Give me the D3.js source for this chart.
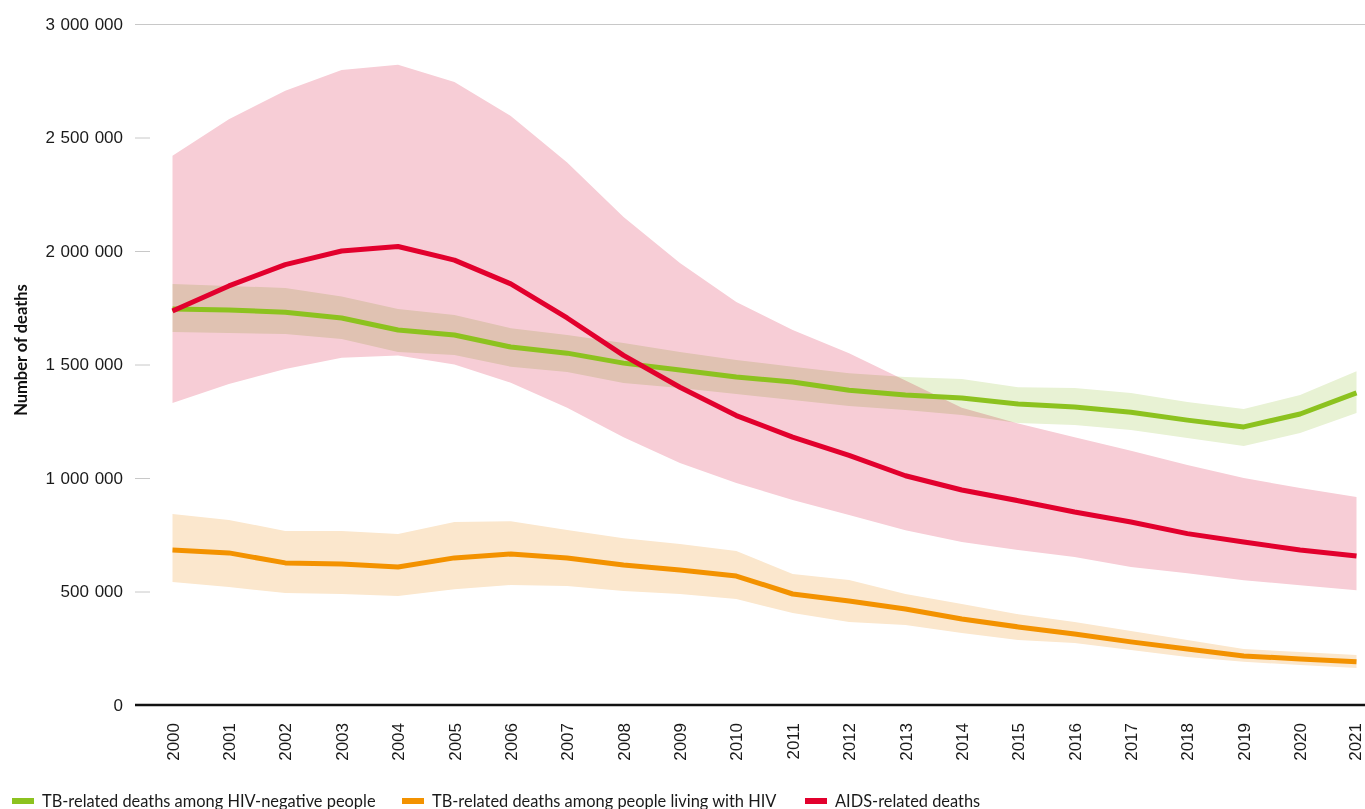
<!DOCTYPE html>
<html>
<head>
<meta charset="utf-8">
<script src="https://cdn.jsdelivr.net/npm/d3@7"></script>
<style>
  body { margin: 0; background: #fff; overflow: hidden; }
  svg { display: block; font-family: Lato, "Noto Sans", sans-serif; }
</style>
</head>
<body>
<svg id="chart"></svg>
<script>
// years on the x axis
const years = d3.range(2000, 2022);

// AIDS-related deaths (estimate, lower, upper)
const aidsDeaths = [1736000, 1846000, 1940000, 2000000, 2020000, 1960000, 1855000, 1705000, 1540000, 1400000, 1275000, 1180000, 1100000, 1010000, 947000, 900000, 850000, 806000, 755000, 718000, 683000, 656000];
const aidsLow = [1330000, 1414000, 1480000, 1530000, 1540000, 1500000, 1420000, 1310000, 1180000, 1066000, 978000, 903000, 837000, 770000, 718000, 683000, 652000, 608000, 580000, 550000, 528000, 506000];
const aidsHigh = [2420000, 2580000, 2706000, 2797000, 2820000, 2744000, 2595000, 2390000, 2150000, 1947000, 1775000, 1652000, 1550000, 1430000, 1310000, 1240000, 1180000, 1120000, 1057000, 1000000, 956000, 916000];

// TB-related deaths among HIV-negative people
const tbNeg = [1745000, 1740000, 1730000, 1705000, 1652000, 1630000, 1577000, 1550000, 1506000, 1476000, 1445000, 1423000, 1387000, 1366000, 1352000, 1326000, 1313000, 1290000, 1255000, 1225000, 1282000, 1375000];
const tbNegLow = [1643000, 1639000, 1634000, 1612000, 1555000, 1542000, 1490000, 1467000, 1418000, 1396000, 1370000, 1344000, 1317000, 1300000, 1277000, 1242000, 1233000, 1211000, 1176000, 1141000, 1198000, 1286000];
const tbNegHigh = [1855000, 1846000, 1837000, 1800000, 1744000, 1718000, 1660000, 1630000, 1595000, 1555000, 1520000, 1490000, 1462000, 1445000, 1436000, 1400000, 1396000, 1374000, 1335000, 1304000, 1366000, 1470000];

// TB-related deaths among people living with HIV
const tbHiv = [683000, 670000, 626000, 621000, 608000, 648000, 665000, 648000, 617000, 595000, 568000, 489000, 458000, 423000, 379000, 344000, 313000, 278000, 247000, 216000, 203000, 190000];
const tbHivLow = [542000, 520000, 493000, 489000, 480000, 510000, 529000, 524000, 502000, 489000, 467000, 405000, 366000, 352000, 317000, 286000, 273000, 242000, 211000, 190000, 176000, 163000];
const tbHivHigh = [841000, 815000, 767000, 767000, 753000, 806000, 810000, 771000, 735000, 709000, 678000, 577000, 551000, 489000, 445000, 400000, 366000, 326000, 286000, 247000, 233000, 220000];

const yTicks = [0, 500000, 1000000, 1500000, 2000000, 2500000, 3000000];
const legendLabels = [
  'TB-related deaths among HIV-negative people',
  'TB-related deaths among people living with HIV',
  'AIDS-related deaths'
];

const width = 1365;
const height = 809;

const series = [
  {name: legendLabels[0], mid: tbNeg, low: tbNegLow, high: tbNegHigh, line: '#8cc21f', band: '#e8f2d4', blend: 'multiply'},
  {name: legendLabels[1], mid: tbHiv, low: tbHivLow, high: tbHivHigh, line: '#f39200', band: '#fbe7cd', blend: 'normal'},
  {name: legendLabels[2], mid: aidsDeaths, low: aidsLow, high: aidsHigh, line: '#e2002d', band: '#f7cdd6', blend: 'normal'}
];

const svg = d3.select('#chart')
  .attr('width', width)
  .attr('height', height);

const x = d3.scaleLinear()
  .domain([2000, 2021])
  .range([172.5, 1356.5]);

const y = d3.scaleLinear()
  .domain([0, 3000000])
  .range([705, 24]);

const fmt = d3.formatLocale({decimal: '.', thousands: '\u2004', grouping: [3], currency: ['', '']}).format(',');

// y axis: short tick marks, labels with spaced thousands
const yAxis = svg.append('g')
  .attr('transform', 'translate(150, 0)')
  .call(d3.axisLeft(y).tickValues(yTicks).tickSize(15).tickPadding(12).tickFormat(fmt));
yAxis.select('.domain').remove();
yAxis.selectAll('.tick line').attr('stroke', '#c8c8c8');
yAxis.selectAll('.tick text')
  .attr('fill', '#1a1a1a')
  .style('font-size', '17px');
// the top tick runs across the whole plot
yAxis.selectAll('.tick')
  .filter(d => d === 3000000)
  .select('line')
  .attr('x1', width - 150);

svg.append('text')
  .attr('transform', 'translate(27, 350) rotate(-90)')
  .attr('text-anchor', 'middle')
  .style('font-size', '16.5px')
  .style('font-weight', 'bold')
  .attr('fill', '#111')
  .text('Number of deaths');

// bands, pink first so the green band blends over it
const area = d3.area()
  .x((d, i) => x(years[i]))
  .y0(d => y(d[0]))
  .y1(d => y(d[1]));

const bandOrder = [series[2], series[0], series[1]];
bandOrder.forEach(s => {
  svg.append('path')
    .datum(s.low.map((v, i) => [v, s.high[i]]))
    .attr('d', area)
    .attr('fill', s.band)
    .style('mix-blend-mode', s.blend);
});

const line = d3.line()
  .x((d, i) => x(years[i]))
  .y(d => y(d));

[series[1], series[0], series[2]].forEach(s => {
  svg.append('path')
    .datum(s.mid)
    .attr('d', line)
    .attr('fill', 'none')
    .attr('stroke', s.line)
    .attr('stroke-width', 5)
    .attr('stroke-linejoin', 'round');
});

// x axis
const xAxis = svg.append('g')
  .attr('transform', `translate(0, ${y(0)})`)
  .call(d3.axisBottom(x).tickValues(years).tickSize(0).tickFormat(d3.format('d')));
xAxis.select('.domain').remove();
xAxis.selectAll('.tick text')
  .attr('transform', 'rotate(-90)')
  .attr('text-anchor', 'end')
  .attr('x', -18)
  .attr('y', d => d === 2021 ? -2 : 0)
  .attr('dy', '0.33em')
  .attr('fill', '#1a1a1a')
  .style('font-size', '17px');

svg.append('line')
  .attr('x1', 135)
  .attr('x2', width)
  .attr('y1', y(0))
  .attr('y2', y(0))
  .attr('stroke', '#111')
  .attr('stroke-width', 2.5);

// legend
const legendX = [12, 402, 805];
const legend = svg.append('g')
  .selectAll('g')
  .data(series)
  .join('g')
  .attr('transform', (d, i) => `translate(${legendX[i]}, 801)`);
legend.append('rect')
  .attr('x', 0)
  .attr('y', -3)
  .attr('width', 22)
  .attr('height', 6)
  .attr('fill', d => d.line);
legend.append('text')
  .attr('x', 30)
  .attr('y', 6)
  .attr('fill', '#1a1a1a')
  .style('font-size', '16.4px')
  .text(d => d.name);
</script>
</body>
</html>
